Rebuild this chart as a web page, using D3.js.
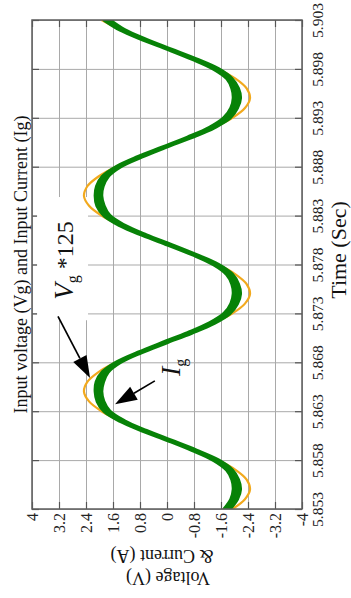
<!DOCTYPE html>
<html>
<head>
<meta charset="utf-8">
<script src="https://cdn.jsdelivr.net/npm/d3@7"></script>
<style>
  html, body { margin: 0; padding: 0; background: #ffffff; }
  svg { display: block; font-family: "Liberation Serif", "Times New Roman", serif; }
</style>
</head>
<body>
<svg id="chart" width="351" height="598"></svg>
<script>
// Sample instants (s)
const sampleTimes = [
  5.853, 5.854, 5.855, 5.856, 5.857, 5.858, 5.859, 5.860, 5.861, 5.862,
  5.863, 5.864, 5.865, 5.866, 5.867, 5.868, 5.869, 5.870, 5.871, 5.872,
  5.873, 5.874, 5.875, 5.876, 5.877, 5.878, 5.879, 5.880, 5.881, 5.882,
  5.883, 5.884, 5.885, 5.886, 5.887, 5.888, 5.889, 5.890, 5.891, 5.892,
  5.893, 5.894, 5.895, 5.896, 5.897, 5.898, 5.899, 5.900, 5.901, 5.902,
  5.903
];

// Input voltage scaled down by 125 (V)
const vgScaled = [
  -1.94, -2.31, -2.46, -2.36, -2.03, -1.51, -0.83, -0.08, 0.69, 1.38,
   1.94,  2.31,  2.46,  2.36,  2.03,  1.51,  0.83,  0.08, -0.69, -1.38,
  -1.94, -2.31, -2.46, -2.36, -2.03, -1.51, -0.83, -0.08, 0.69, 1.38,
   1.94,  2.31,  2.46,  2.36,  2.03,  1.51,  0.83,  0.08, -0.69, -1.38,
  -1.94, -2.31, -2.46, -2.36, -2.03, -1.51, -0.83, -0.08, 0.69, 1.38,
   1.94
];

// Input current, mean of the switching ripple (A)
const igMean = [
  -1.78, -1.99, -2.07, -2.02, -1.85, -1.45, -0.81, -0.08, 0.67, 1.33,
   1.78,  1.97,  2.03,  1.99,  1.83,  1.44,  0.81,  0.08, -0.67, -1.33,
  -1.78, -1.99, -2.07, -2.02, -1.85, -1.45, -0.81, -0.08, 0.67, 1.33,
   1.78,  1.97,  2.03,  1.99,  1.83,  1.44,  0.81,  0.08, -0.67, -1.33,
  -1.78, -1.99, -2.07, -2.02, -1.85, -1.45, -0.81, -0.08, 0.67, 1.33,
   1.78
];

// Half-width of the switching ripple on the current (A)
const igRipple = [
  0.08, 0.09, 0.10, 0.09, 0.08, 0.07, 0.06, 0.05, 0.06, 0.07,
  0.08, 0.09, 0.09, 0.10, 0.08, 0.06, 0.05, 0.06, 0.06, 0.07,
  0.08, 0.09, 0.10, 0.09, 0.08, 0.07, 0.05, 0.06, 0.06, 0.07,
  0.08, 0.10, 0.09, 0.09, 0.08, 0.06, 0.06, 0.05, 0.06, 0.07,
  0.09, 0.09, 0.10, 0.09, 0.07, 0.07, 0.06, 0.05, 0.06, 0.07,
  0.08
];

const timeTicks = [5.853, 5.858, 5.863, 5.868, 5.873, 5.878, 5.883, 5.888, 5.893, 5.898, 5.903];
const valueTicks = [4, 3.2, 2.4, 1.6, 0.8, 0, -0.8, -1.6, -2.4, -3.2, -4];
const timeTickLabels = ["5.853", "5.858", "5.863", "5.868", "5.873", "5.878", "5.883", "5.888", "5.893", "5.898", "5.903"];
const valueTickLabels = ["4", "3.2", "2.4", "1.6", "0.8", "0", "-0.8", "-1.6", "-2.4", "-3.2", "-4"];

const svg = d3.select("#chart");
const plot = { left: 32, top: 20, right: 302, bottom: 509 };

// Value axis runs horizontally, time runs bottom to top
const x = d3.scaleLinear().domain([4, -4]).range([plot.left, plot.right]);
const y = d3.scaleLinear().domain([5.853, 5.903]).range([plot.bottom, plot.top]);

svg.append("rect").attr("width", 351).attr("height", 598).attr("fill", "#fff");

svg.append("clipPath").attr("id", "plot-clip")
  .append("rect")
  .attr("x", plot.left).attr("y", plot.top)
  .attr("width", plot.right - plot.left).attr("height", plot.bottom - plot.top);

// Grid
const gridColor = "#a9a9a9";
svg.append("g")
  .attr("transform", `translate(0,${plot.bottom})`)
  .call(d3.axisBottom(x).tickValues(valueTicks).tickSize(-(plot.bottom - plot.top)).tickFormat(""))
  .call(g => g.select(".domain").remove())
  .call(g => g.selectAll("line").attr("stroke", gridColor).attr("stroke-width", 1));
svg.append("g")
  .attr("transform", `translate(${plot.left},0)`)
  .call(d3.axisLeft(y).tickValues(timeTicks).tickSize(-(plot.right - plot.left)).tickFormat(""))
  .call(g => g.select(".domain").remove())
  .call(g => g.selectAll("line").attr("stroke", gridColor).attr("stroke-width", 1));

// Inward ticks on all four sides
const tickColor = "#555";
const tickLen = 7;
[
  [d3.axisTop(x).tickValues(valueTicks), `translate(0,${plot.bottom})`],
  [d3.axisBottom(x).tickValues(valueTicks), `translate(0,${plot.top})`],
  [d3.axisRight(y).tickValues(timeTicks), `translate(${plot.left},0)`],
  [d3.axisLeft(y).tickValues(timeTicks), `translate(${plot.right},0)`]
].forEach(([axis, tr]) => {
  svg.append("g").attr("transform", tr)
    .call(axis.tickSize(tickLen).tickFormat(""))
    .call(g => g.select(".domain").remove())
    .call(g => g.selectAll("line").attr("stroke", tickColor).attr("stroke-width", 1.2));
});

// White panel behind the voltage annotation
svg.append("rect")
  .attr("x", x(3.85)).attr("y", y(5.8849))
  .attr("width", x(2.34) - x(3.85)).attr("height", y(5.8723) - y(5.8849))
  .attr("fill", "#fff");

const curves = svg.append("g").attr("clip-path", "url(#plot-clip)");

// Scaled input voltage
curves.append("path")
  .datum(sampleTimes.map((t, i) => [t, vgScaled[i]]))
  .attr("fill", "none")
  .attr("stroke", "#f2a91d")
  .attr("stroke-width", 2.2)
  .attr("d", d3.line().x(d => x(d[1])).y(d => y(d[0])).curve(d3.curveCatmullRom));

// Input current as its ripple band
curves.append("path")
  .datum(sampleTimes.map((t, i) => [t, igMean[i] + igRipple[i], igMean[i] - igRipple[i]]))
  .attr("fill", "#078207")
  .attr("stroke", "#078207")
  .attr("stroke-width", 3.6)
  .attr("stroke-linejoin", "round")
  .attr("d", d3.area().y(d => y(d[0])).x0(d => x(d[1])).x1(d => x(d[2])).curve(d3.curveCatmullRom));

// Frame
svg.append("rect")
  .attr("x", plot.left).attr("y", plot.top)
  .attr("width", plot.right - plot.left).attr("height", plot.bottom - plot.top)
  .attr("fill", "none").attr("stroke", "#5c5c5c").attr("stroke-width", 1.5);

// Value tick labels under the frame
const valueAxis = svg.append("g")
  .attr("transform", `translate(0,${plot.bottom})`)
  .call(d3.axisBottom(x).tickValues(valueTicks).tickSize(0).tickFormat((d, i) => valueTickLabels[i]));
valueAxis.select(".domain").remove();
valueAxis.selectAll("text")
  .attr("font-family", "Liberation Serif")
  .attr("font-size", 16)
  .attr("fill", "#222")
  .attr("text-anchor", "end")
  .attr("x", -4).attr("y", 0).attr("dy", "0.35em")
  .attr("transform", "rotate(-90)");

// Time tick labels right of the frame
const timeAxis = svg.append("g")
  .attr("transform", `translate(${plot.right},0)`)
  .call(d3.axisRight(y).tickValues(timeTicks).tickSize(0).tickFormat((d, i) => timeTickLabels[i]));
timeAxis.select(".domain").remove();
timeAxis.selectAll("text")
  .attr("font-family", "Liberation Serif")
  .attr("font-size", 15.5)
  .attr("fill", "#222")
  .attr("text-anchor", "middle")
  .attr("x", 0).attr("y", 0).attr("dy", 0)
  .attr("transform", "translate(21,0) rotate(-90)");

// Titles
svg.append("text")
  .attr("transform", `translate(27,${(plot.top + plot.bottom) / 2}) rotate(-90)`)
  .attr("text-anchor", "middle")
  .attr("font-size", 18)
  .attr("fill", "#111")
  .text("Input voltage (Vg) and Input Current (Ig)");

svg.append("text")
  .attr("transform", "translate(346,250) rotate(-90)")
  .attr("text-anchor", "middle")
  .attr("font-size", 22)
  .attr("fill", "#111")
  .text("Time (Sec)");

svg.append("text")
  .attr("transform", "translate(168,578) rotate(180)")
  .attr("text-anchor", "middle")
  .attr("dy", "0.35em")
  .attr("font-size", 18)
  .attr("fill", "#111")
  .text("Voltage (V)");

svg.append("text")
  .attr("transform", "translate(162,556) rotate(180)")
  .attr("text-anchor", "middle")
  .attr("dy", "0.35em")
  .attr("font-size", 18)
  .attr("fill", "#111")
  .text("& Current (A)");

// Annotations with arrows
function arrow(from, to) {
  const x0 = x(from[0]), y0 = y(from[1]), x1 = x(to[0]), y1 = y(to[1]);
  const dx = x1 - x0, dy = y1 - y0, len = Math.hypot(dx, dy);
  const ux = dx / len, uy = dy / len;
  const headLen = 22, headHalf = 7.5;
  const bx = x1 - ux * headLen, by = y1 - uy * headLen;
  svg.append("line")
    .attr("x1", x0).attr("y1", y0).attr("x2", bx).attr("y2", by)
    .attr("stroke", "#000").attr("stroke-width", 1.7);
  svg.append("polygon")
    .attr("points", [
      [x1, y1],
      [bx - uy * headHalf, by + ux * headHalf],
      [bx + uy * headHalf, by - ux * headHalf]
    ].map(p => p.join(",")).join(" "))
    .attr("fill", "#000");
}

arrow([3.23, 5.8727], [2.28, 5.8664]);
arrow([0.36, 5.8661], [1.54, 5.8637]);

const vgLabel = svg.append("text")
  .attr("transform", `translate(${x(2.79)},${y(5.8744)}) rotate(-90)`)
  .attr("fill", "#111");
vgLabel.append("tspan").attr("font-style", "italic").attr("font-size", 27).text("V");
vgLabel.append("tspan").attr("font-size", 16).attr("dy", 5).text("g");
vgLabel.append("tspan").attr("font-size", 24).attr("dy", -5).text(" *125");

const igLabel = svg.append("text")
  .attr("transform", `translate(${x(-0.385)},${y(5.8666)}) rotate(-90)`)
  .attr("fill", "#111");
igLabel.append("tspan").attr("font-style", "italic").attr("font-size", 28).text("I");
igLabel.append("tspan").attr("font-size", 16).attr("dy", 6).text("g");
</script>
</body>
</html>
